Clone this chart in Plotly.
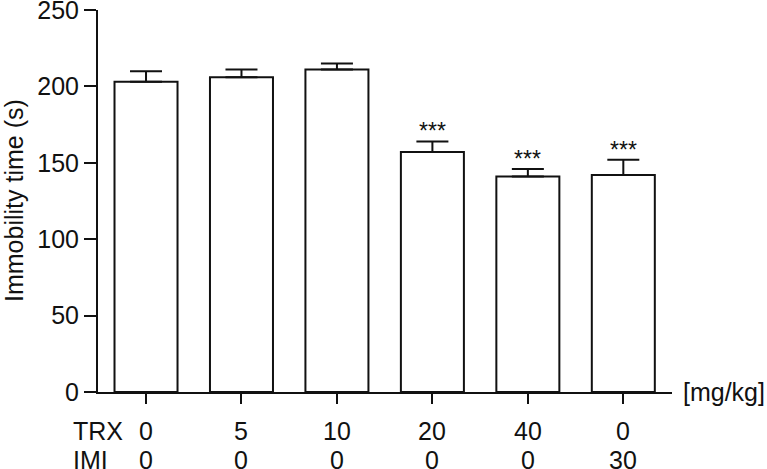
import plotly.graph_objects as go

# Dati (tempo di immobilità, media + SEM)
groups = ["g1", "g2", "g3", "g4", "g5", "g6"]
immobility = [203, 206, 211, 157, 141, 142]
sem = [7, 5, 4, 7, 5, 10]
trx_dose = ["0", "5", "10", "20", "40", "0"]
imi_dose = ["0", "0", "0", "0", "0", "30"]
signif = ["", "", "", "***", "***", "***"]
y_ticks = [0, 50, 100, 150, 200, 250]

_FONT = "Liberation Sans, Arial, sans-serif"
_BLACK = "#111111"

xs = list(range(len(groups)))

fig = go.Figure(
    go.Bar(
        x=xs,
        y=immobility,
        width=0.66,
        marker=dict(color="white", line=dict(color=_BLACK, width=2)),
        error_y=dict(
            type="data",
            symmetric=False,
            array=sem,
            arrayminus=[0] * len(sem),
            color=_BLACK,
            thickness=2,
            width=16,
        ),
        showlegend=False,
    )
)

# asterischi di significatività sopra le barre d'errore
for x, m, e, s in zip(xs, immobility, sem, signif):
    if s:
        fig.add_annotation(
            x=x, y=m + e, text=s, showarrow=False,
            xref="x", yref="y", yanchor="bottom", yshift=-5,
            font=dict(size=23, color=_BLACK),
        )

# righe delle dosi sotto l'asse x
for x, t, i in zip(xs, trx_dose, imi_dose):
    fig.add_annotation(x=x, y=0, xref="x", yref="paper", text=t,
                       showarrow=False, yanchor="middle", yshift=-39)
    fig.add_annotation(x=x, y=0, xref="x", yref="paper", text=i,
                       showarrow=False, yanchor="middle", yshift=-68)
fig.add_annotation(x=0, y=0, xref="paper", yref="paper", text="TRX",
                   showarrow=False, xanchor="left", xshift=-27,
                   yanchor="middle", yshift=-39)
fig.add_annotation(x=0, y=0, xref="paper", yref="paper", text="IMI",
                   showarrow=False, xanchor="left", xshift=-27,
                   yanchor="middle", yshift=-68)
fig.add_annotation(x=1, y=0, xref="paper", yref="paper", text="[mg/kg]",
                   showarrow=False, xanchor="left", xshift=9,
                   yanchor="middle")
# titolo asse y come annotazione ruotata
fig.add_annotation(x=0, y=0.5, xref="paper", yref="paper",
                   text="Immobility time (s)", textangle=-90,
                   showarrow=False, xanchor="center", xshift=-84,
                   yanchor="middle")

fig.update_layout(
    width=767,
    height=469,
    margin=dict(l=98, r=95, t=10, b=77),
    plot_bgcolor="white",
    paper_bgcolor="white",
    font=dict(family=_FONT, size=25, color=_BLACK),
)
fig.update_xaxes(
    range=[-0.503, 5.51],
    tickvals=xs,
    showticklabels=False,
    ticks="outside",
    ticklen=10,
    tickwidth=2,
    tickcolor=_BLACK,
    showline=True,
    linewidth=2,
    linecolor=_BLACK,
    showgrid=False,
    zeroline=False,
    automargin=False,
)
fig.update_yaxes(
    range=[0, 250.01],
    tickvals=y_ticks,
    ticks="outside",
    ticklen=12,
    tickwidth=2,
    tickcolor=_BLACK,
    ticklabeloverflow="allow",
    showline=True,
    linewidth=2,
    linecolor=_BLACK,
    showgrid=False,
    zeroline=False,
    automargin=False,
)

# niente margine del body, così la figura riempie la finestra
fig.write_html(
    "out.html",
    config={"displayModeBar": False},
    post_script="document.body.style.margin='0';",
)
